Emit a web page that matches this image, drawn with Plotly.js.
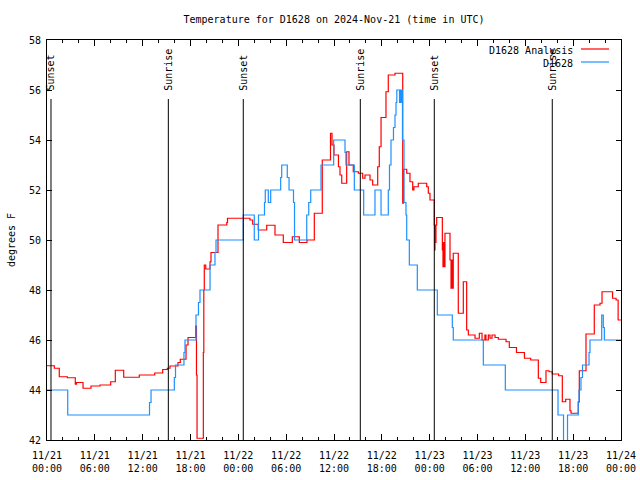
<!DOCTYPE html>
<html>
<head>
<meta charset="utf-8">
<script src="https://cdn.plot.ly/plotly-3.0.1.min.js"></script>
<style>html,body{margin:0;padding:0;background:#fff;} #chart{width:640px;height:480px;}</style>
</head>
<body>
<div id="chart"></div>
<script>
// Hours since 2024-11-21 00:00 UTC
const obsHours = [0,2.6,12.86,13.05,15.97,16.12,17.18,17.31,18.69,19.0,19.19,20.45,21.07,21.2,24.62,26.0,26.53,27.28,27.38,27.76,28.06,29.31,29.44,30.14,30.36,30.92,31.05,32.58,32.83,33.08,34.37,35.96,37.38,37.5,38.55,39.72,41.14,41.9,42.81,42.96,43.15,43.46,43.65,43.78,43.88,44.22,44.28,44.34,44.4,44.46,44.52,44.59,44.78,45.03,45.12,45.45,46.45,48.96,50.84,50.96,54.73,57.49,64.1,64.79,65.29,66.64,66.73,66.98,67.17,67.99,68.11,69.58,69.78,69.91,72];
const obsTemp  = [44,43,43.5,44,44.5,45,45.5,46,47,47.5,48,49,49.5,50,51,50,51,51.5,52,51.5,52,52.5,53,52.5,52,51.5,50,51,51.5,52,53,54,53.5,53,52,51,52,51,52,53,54,54.5,55,55.5,56,55.5,56,55.5,56,55.5,56,54,51.5,51,50,49,48,47,46.5,46,45,44,43,41,43,43.5,44,44.5,45,45.5,46,47,46.5,46,46];

const anaHours = [0,0.92,1.54,2.55,3.55,3.7,4.52,5.52,6.65,7.99,8.57,9.62,11.58,13.51,14.51,15.09,15.43,16.43,16.72,17.44,17.69,18.65,18.75,18.82,19.61,19.67,19.73,19.91,20.45,20.57,21.45,22.55,22.64,25.46,25.8,26.5,27.56,28.6,29.64,30.77,31.65,32.61,33.53,34.53,35.56,35.75,36.0,36.56,36.75,36.97,37.59,37.88,38.42,39.05,39.6,39.89,40.52,40.85,41.48,41.68,41.9,42.52,42.81,43.65,44.62,44.72,45.12,45.53,45.87,46.03,46.57,47.63,47.83,48.04,48.58,48.63,48.67,48.73,48.79,48.88,49.59,49.67,49.74,49.8,49.92,50.55,50.68,50.78,50.84,50.96,51.59,52.22,52.64,52.85,53.69,54.23,54.57,54.93,55.06,55.36,55.57,55.82,56.2,56.61,57.58,57.99,58.89,59.89,60.67,61.63,61.93,62.59,62.97,63.38,64.18,64.64,65.06,65.6,65.73,66.64,66.77,67.61,68.65,69.37,69.62,70.94,71.38,71.64,72];
const anaTemp  = [44.97,44.87,44.53,44.49,44.23,44.3,44.07,44.16,44.2,44.33,44.79,44.51,44.6,44.68,44.82,44.87,44.96,45.1,45.23,45.8,46.1,46.56,44.6,42.07,45.5,48,49,48.84,49.13,49.5,50.6,50.7,50.87,50.8,50.63,50.4,50.59,50.2,49.9,50.13,49.9,50,51.07,53.2,54.27,53.8,53.4,52.93,52.6,52.27,53.53,53.0,52.73,52.67,52.47,52.6,52.4,52.2,52.93,53.73,54.9,55.93,56.6,56.67,51.47,52.83,52.67,52.33,52.0,52.13,52.27,52.13,51.87,51.6,50.6,49.6,50.6,49.9,50.6,50.9,49.6,48.93,49.9,48.93,50.27,49.2,48.07,49.2,48.07,49.47,47.07,48.33,46.4,46.2,46.07,46.27,46.0,46.2,46.0,46.2,46.07,46.2,46.1,46.03,45.93,45.7,45.5,45.27,45.2,44.47,44.3,44.77,44.73,44.64,44.57,43.53,43.63,43.17,43.07,43.53,44.77,46.24,47.4,47.47,47.93,47.67,47.6,46.8,46.8];

const sunHours  = [0.5, 15.22, 24.62, 39.30, 48.58, 63.38];
const sunLabels = ['Sunset','Sunrise','Sunset','Sunrise','Sunset','Sunrise'];

const tickHours  = [0,6,12,18,24,30,36,42,48,54,60,66,72];
const tickLabels = ['11/21<br>00:00','11/21<br>06:00','11/21<br>12:00','11/21<br>18:00','11/22<br>00:00','11/22<br>06:00','11/22<br>12:00','11/22<br>18:00','11/23<br>00:00','11/23<br>06:00','11/23<br>12:00','11/23<br>18:00','11/24<br>00:00'];

const seriesNames = ['D1628 Analysis','D1628'];
const RED = '#ff0000', BLUE = '#1e90ff';
const FONT = 'DejaVu Sans Mono, Liberation Mono, monospace';

const traces = [
  {x: anaHours, y: anaTemp, type:'scatter', mode:'lines', line:{color:RED, width:1.2, shape:'hv'}, name:seriesNames[0], hoverinfo:'skip'},
  {x: obsHours, y: obsTemp, type:'scatter', mode:'lines', line:{color:BLUE, width:1.2, shape:'hv'}, name:seriesNames[1], hoverinfo:'skip'}
];

const shapes = [];
const annotations = [];
sunHours.forEach((h,i)=>{
  shapes.push({type:'line', xref:'x', yref:'y', x0:h, x1:h, y0:42, y1:55.64, line:{color:'#000', width:1}});
  annotations.push({xref:'x', yref:'y', x:h, y:55.9, text:sunLabels[i], textangle:-90, showarrow:false,
    xanchor:'center', yanchor:'bottom', font:{family:FONT, size:10, color:'#000'}});
});

// Manual legend (top-right, text left of the sample line)
const PL=47, PW=574, PT=40, PH=400;
const px = v => (v-PL)/PW, py = v => (PT+PH-v)/PH;
const legRows = [49, 62];
const legColors = [RED, BLUE];
legRows.forEach((yy,i)=>{
  annotations.push({xref:'paper', yref:'paper', x:px(575), y:py(yy+1), text:seriesNames[i], showarrow:false,
    xanchor:'right', yanchor:'middle', font:{family:FONT, size:10, color:'#000'}});
  shapes.push({type:'line', xref:'paper', yref:'paper', x0:px(581), x1:px(609), y0:py(yy), y1:py(yy), line:{color:legColors[i], width:1.2}});
});

const layout = {
  width:640, height:480,
  margin:{l:47, r:19, t:40, b:40},
  paper_bgcolor:'#fff', plot_bgcolor:'#fff',
  showlegend:false,
  font:{family:FONT, size:10, color:'#000'},
  title:{text:'Temperature for D1628 on 2024-Nov-21 (time in UTC)', font:{family:FONT, size:10, color:'#000'},
    xref:'paper', x:0.5, xanchor:'center', yref:'container', y:1-19/480, yanchor:'middle'},
  xaxis:{range:[0,72], tickmode:'array', tickvals:tickHours, ticktext:tickLabels,
    ticks:'inside', ticklen:6, tickwidth:1, tickcolor:'#000', mirror:'allticks', showline:true, linecolor:'#000', linewidth:1,
    showgrid:false, zeroline:false, tickfont:{family:FONT, size:10, color:'#000'}, ticklabelstandoff:6,
    minor:{tickmode:'linear', tick0:0, dtick:2, ticks:'inside', ticklen:3, tickcolor:'#000', showgrid:false}},
  yaxis:{range:[42,58], tickmode:'linear', tick0:42, dtick:2,
    ticks:'inside', ticklen:5, tickwidth:1, tickcolor:'#000', mirror:'allticks', showline:true, linecolor:'#000', linewidth:1,
    showgrid:false, zeroline:false, tickfont:{family:FONT, size:10, color:'#000'}, ticklabelstandoff:3,
    title:{text:'degrees F', font:{family:FONT, size:10, color:'#000'}, standoff:11}},
  shapes:shapes, annotations:annotations
};

Plotly.newPlot('chart', traces, layout, {staticPlot:true, displayModeBar:false});
</script>
</body>
</html>
